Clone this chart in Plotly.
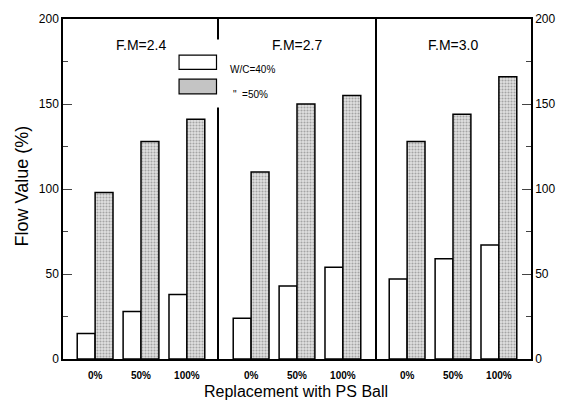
import plotly.graph_objects as go
from plotly.subplots import make_subplots

panels = ["F.M=2.4", "F.M=2.7", "F.M=3.0"]
replacement = ["0%", "50%", "100%"]
wc40 = [[15, 28, 38], [24, 43, 54], [47, 59, 67]]
wc50 = [[98, 128, 141], [110, 150, 155], [128, 144, 166]]
legend_labels = ["W/C=40%", "\"  =50%"]

FONT = "Liberation Sans"

fig = make_subplots(rows=1, cols=3, shared_yaxes=False, horizontal_spacing=0)

for i in range(3):
    fig.add_trace(go.Bar(x=replacement, y=wc40[i], name=legend_labels[0],
                         marker=dict(color="white", line=dict(color="black", width=1.5)),
                         showlegend=False), row=1, col=i + 1)
    fig.add_trace(go.Bar(x=replacement, y=wc50[i], name=legend_labels[1],
                         marker=dict(color="#d0d0d0", line=dict(color="black", width=1.5),
                                     pattern=dict(shape=".", fgcolor="#666666", bgcolor="#e2e2e2",
                                                  size=3, solidity=0.4)),
                         showlegend=False), row=1, col=i + 1)

for i in range(3):
    xa = "xaxis" if i == 0 else f"xaxis{i+1}"
    fig.layout[xa].update(range=[-0.7, 2.7], showline=True, linecolor="black", linewidth=1.5,
                          mirror=True, ticks="outside", ticklen=6, tickcolor="rgba(0,0,0,0)",
                          showgrid=False, zeroline=False,
                          tickfont=dict(family=FONT, size=10, color="black", weight="bold"))

yaxis_common = dict(range=[0, 200], showgrid=False, zeroline=False, showline=True,
                    linecolor="black", linewidth=1.5)
fig.layout.yaxis.update(**yaxis_common, ticks="inside", ticklen=9, tickwidth=1.2,
                        tickvals=[0, 50, 100, 150, 200],
                        minor=dict(ticks="inside", ticklen=5, tickwidth=1.2, dtick=25),
                        tickfont=dict(family=FONT, size=12, color="black"))
fig.layout.yaxis2.update(**yaxis_common, mirror=True, showticklabels=False, ticks="")
fig.layout.yaxis3.update(**yaxis_common, side="right", ticks="inside", ticklen=9, tickwidth=1.2,
                         tickvals=[0, 50, 100, 150, 200],
                         minor=dict(ticks="inside", ticklen=5, tickwidth=1.2, dtick=25),
                         tickfont=dict(family=FONT, size=12, color="black"))

for i, t in enumerate(panels):
    xr = "x domain" if i == 0 else f"x{i+1} domain"
    yr = "y domain" if i == 0 else f"y{i+1} domain"
    fig.add_annotation(text=t, x=0.5, y=0.954, xref=xr, yref=yr, showarrow=False,
                       font=dict(family=FONT, size=14, color="black"))

# legend (drawn manually) with white background covering the divider
fig.add_shape(type="rect", xref="paper", yref="paper", x0=0.31, x1=0.34, y0=0.74, y1=0.94,
              fillcolor="white", line=dict(width=0), layer="above")
fig.add_shape(type="rect", xref="paper", yref="paper", x0=0.248, x1=0.328, y0=0.852, y1=0.894,
              fillcolor="white", line=dict(color="black", width=1.2), layer="above")
fig.add_shape(type="rect", xref="paper", yref="paper", x0=0.248, x1=0.328, y0=0.780, y1=0.823,
              fillcolor="#c4c4c4", line=dict(color="black", width=1.2), layer="above")
fig.add_annotation(text=legend_labels[0], x=0.353, y=0.873, xref="paper", yref="paper",
                   xanchor="left", showarrow=False, font=dict(family=FONT, size=10, color="black"))
fig.add_annotation(text=legend_labels[1], x=0.358, y=0.80, xref="paper", yref="paper",
                   xanchor="left", showarrow=False, font=dict(family=FONT, size=10, color="black"))

fig.add_annotation(text="Flow Value (%)", x=-0.088, y=0.51, xref="paper", yref="paper",
                   xanchor="center", yanchor="middle",
                   textangle=-90, showarrow=False, font=dict(family=FONT, size=18, color="black"))
fig.add_annotation(text="Replacement with PS Ball", x=0.497, y=-0.096, xref="paper", yref="paper",
                   xanchor="center", yanchor="middle",
                   showarrow=False, font=dict(family=FONT, size=16, color="black"))

fig.update_layout(width=567, height=405, margin=dict(l=63, r=25, t=14, b=46),
                  barmode="group", bargap=0.22, bargroupgap=0,
                  plot_bgcolor="white", paper_bgcolor="white", showlegend=False)

fig.write_html("out.html", config={"displayModeBar": False},
               post_script="document.body.style.margin='0';document.body.style.overflow='hidden';")
